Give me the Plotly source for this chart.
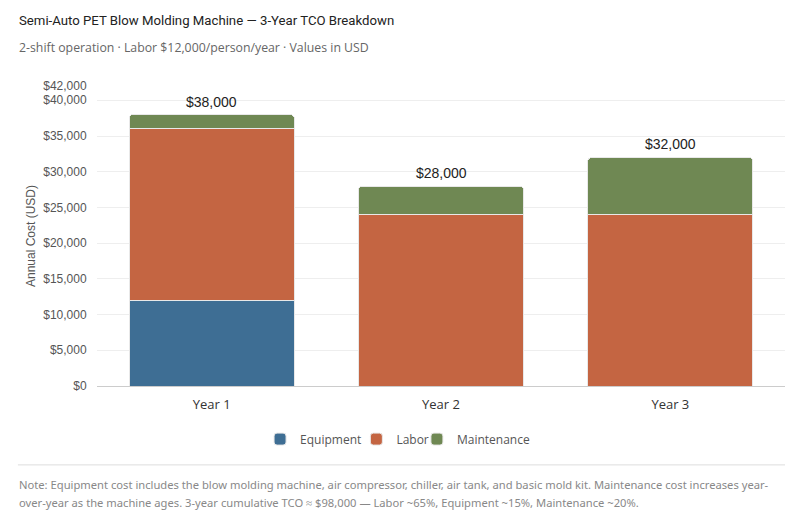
import plotly.graph_objects as go

years = ["Year 1", "Year 2", "Year 3"]
equipment = [12000, 0, 0]
labor = [24000, 24000, 24000]
maintenance = [2000, 4000, 8000]
y_ticks = [0, 5000, 10000, 15000, 20000, 25000, 30000, 35000, 40000, 42000]

totals = [e + l + m for e, l, m in zip(equipment, labor, maintenance)]

note_1 = ("Note: Equipment cost includes the blow molding machine, air compressor, chiller, air tank, "
          "and basic mold kit. Maintenance cost increases year-")
note_2 = ("over-year as the machine ages. 3-year cumulative TCO ≈ $98,000 — Labor ~65%, "
          "Equipment ~15%, Maintenance ~20%.")

fig = go.Figure()
fig.add_trace(go.Bar(x=years, y=equipment, name="Equipment", legend="legend",
                     marker=dict(color="#3e6e94", line=dict(color="#e8e8e8", width=1))))
fig.add_trace(go.Bar(x=years, y=labor, name="Labor", legend="legend2",
                     marker=dict(color="#c46542", line=dict(color="#e8e8e8", width=1))))
fig.add_trace(go.Bar(x=years, y=maintenance, name="Maintenance", legend="legend3",
                     marker=dict(color="#6f8853", line=dict(color="#e8e8e8", width=1))))

for yr, t in zip(years, totals):
    fig.add_annotation(x=yr, y=t, text="${:,}".format(t), showarrow=False,
                       yshift=13, font=dict(size=14, color="#222", family="Liberation Sans"))

# header / footer (page body has an 8px offset, so paper coords are set from that)
fig.add_annotation(xref="paper", yref="paper", x=-0.117, y=1.22, xanchor="left", yanchor="middle",
                   text="Semi-Auto PET Blow Molding Machine — 3-Year TCO Breakdown",
                   showarrow=False, font=dict(size=13.2, color="#222", family="Roboto"))
fig.add_annotation(xref="paper", yref="paper", x=-0.117, y=1.13, xanchor="left", yanchor="middle",
                   text="2-shift operation · Labor $12,000/person/year · Values in USD",
                   showarrow=False, font=dict(size=12.3, color="#666", family="Open Sans"))
fig.add_annotation(xref="paper", yref="paper", x=-0.117, y=-0.327, xanchor="left", yanchor="middle",
                   text=note_1, showarrow=False, font=dict(size=11.2, color="#888", family="Noto Sans"))
fig.add_annotation(xref="paper", yref="paper", x=-0.117, y=-0.387, xanchor="left", yanchor="middle",
                   text=note_2, showarrow=False, font=dict(size=11.2, color="#888", family="Noto Sans"))
fig.add_shape(type="line", xref="paper", yref="paper", x0=-0.115, x1=1.0, y0=-0.263, y1=-0.263,
              line=dict(color="#dddddd", width=1))

leg = dict(orientation="h", xanchor="left", y=-0.177, yanchor="middle", itemwidth=30,
           font=dict(size=12, color="#555", family="Open Sans"), bgcolor="rgba(0,0,0,0)")

fig.update_layout(
    barmode="stack",
    bargap=0.28,
    barcornerradius=4,
    width=789, height=511,
    margin=dict(l=89, r=12, t=78, b=133),
    paper_bgcolor="white", plot_bgcolor="white",
    font=dict(family="Liberation Sans, Arial", color="#555"),
    showlegend=True,
    legend=dict(leg, x=0.237),
    legend2=dict(leg, x=0.377),
    legend3=dict(leg, x=0.465),
)
fig.update_xaxes(showline=True, linecolor="#cccccc", linewidth=1,
                 ticks="outside", ticklen=6, tickcolor="rgba(0,0,0,0)",
                 tickfont=dict(size=13, color="#333", family="Open Sans"))
fig.update_yaxes(range=[0, 42000], tickvals=y_ticks,
                 ticktext=["${:,}".format(v) for v in y_ticks],
                 showgrid=True, gridcolor="#eeeeee", zeroline=False,
                 ticks="outside", ticklen=7, tickcolor="rgba(0,0,0,0)",
                 tickfont=dict(size=12, color="#555"),
                 title=dict(text="Annual Cost (USD)", font=dict(size=12, color="#555"), standoff=5))

fig.write_html("out.html")
